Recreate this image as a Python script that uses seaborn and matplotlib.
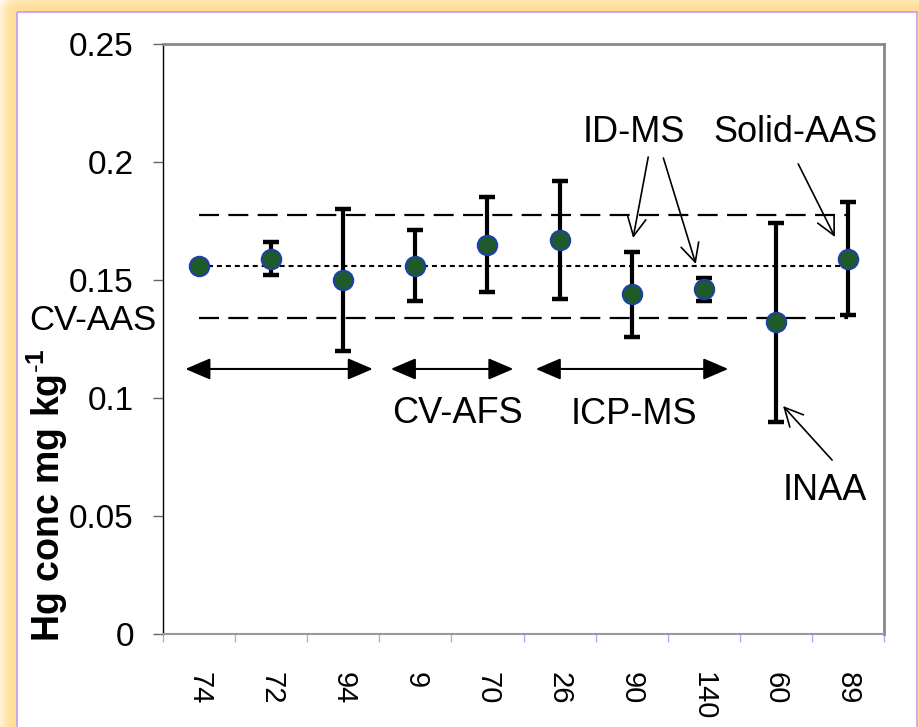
import numpy as np
import pandas as pd
import matplotlib
matplotlib.use('Agg')
import matplotlib.pyplot as plt
import seaborn as sns
from matplotlib.patches import Rectangle

# ---- data ----
labs = ['74', '72', '94', '9', '70', '26', '90', '140', '60', '89']
vals = [0.156, 0.159, 0.150, 0.156, 0.165, 0.167, 0.144, 0.146, 0.132, 0.159]
errs = [0.0, 0.007, 0.030, 0.015, 0.020, 0.025, 0.018, 0.005, 0.042, 0.024]
ref_mean = 0.156
ref_upper = 0.1775
ref_lower = 0.134
yticks = [0, 0.05, 0.1, 0.15, 0.2, 0.25]
ytick_labels = ['0', '0.05', '0.1', '0.15', '0.2', '0.25']

sns.set_style('white')
plt.rcParams['font.family'] = ['Liberation Sans', 'DejaVu Sans']
plt.rcParams['mathtext.fontset'] = 'custom'
plt.rcParams['mathtext.rm'] = 'Liberation Sans'
plt.rcParams['mathtext.bf'] = 'Liberation Sans:bold'
plt.rcParams['text.color'] = 'black'
plt.rcParams['axes.labelcolor'] = 'black'
plt.rcParams['xtick.labelcolor'] = 'black'
plt.rcParams['ytick.labelcolor'] = 'black'

W, H = 920, 727
fig = plt.figure(figsize=(W / 100, H / 100), dpi=100)
fig.patch.set_facecolor('white')

# ---- decorative frame: yellow glow + purple border ----
bg = fig.add_axes([0, 0, 1, 1], zorder=-10)
yy, xx = np.mgrid[0:H, 0:W]
px0, px1, py0 = 17, 917, 12
dx = np.maximum(np.maximum(px0 - xx, xx - px1), 0)
dy = np.maximum(py0 - yy, 0)
d = np.hypot(dx, dy)
a = np.clip(1 - (d / 21.0) ** 2, 0, 1) * (d > 0)
yellow = np.array([1.0, 0.87, 0.58])
img = 1 - a[..., None] * (1 - yellow)
bg.imshow(img, extent=[0, W, H, 0], aspect='auto', interpolation='bilinear')
bg.set_xlim(0, W)
bg.set_ylim(H, 0)
bg.axis('off')
bg.add_patch(Rectangle((px0, py0), px1 - px0, H + 20, fill=False,
                       edgecolor='#C8A0F5', linewidth=1.3))

# ---- main axes ----
ax = fig.add_axes([163 / W, (H - 634) / H, 721 / W, 590 / H])
ax.set_facecolor('white')
x = np.arange(len(labs))

ax.hlines([ref_upper, ref_lower], x[0], x[-1], colors='black', lw=1.6,
          linestyles=[(0, (9, 4.2))], zorder=1)
ax.hlines(ref_mean, x[0], x[-1], colors='black', lw=1.5,
          linestyles=[(0, (2.4, 1.9))], zorder=1)

ax.errorbar(x, vals, yerr=errs, fmt='none', ecolor='black', elinewidth=3,
            capsize=5.5, capthick=3.2, zorder=2)
df = pd.DataFrame({'lab': labs, 'val': vals})
sns.scatterplot(data=df, x='lab', y='val', ax=ax, s=195, color='#1E5A2A',
                edgecolor='#1F40A8', linewidth=1.5, zorder=3, legend=False)

ax.set_xlim(-0.5, 9.5)
ax.set_ylim(0, 0.25)
ax.set_yticks(yticks)
ax.set_yticklabels(ytick_labels)
ax.set_xticks(x)
ax.set_xticklabels(labs, rotation=270, va='top', ha='center')
ax.set_xticks(np.arange(-0.5, 10, 1), minor=True)
ax.tick_params(axis='y', which='major', left=True, direction='out', length=7,
               width=1, color='#666666', labelsize=24, pad=14, labelcolor='black')
ax.tick_params(axis='x', which='major', bottom=True, length=0, labelsize=21,
               pad=27, labelcolor='black')
ax.tick_params(axis='x', which='minor', bottom=True, direction='out', length=6,
               width=1, color='#CC99FF')
ax.set_xlabel('')
ax.set_ylabel(r'Hg conc mg kg$^{\mathbf{\text{-}1}}$', fontsize=27,
              fontweight='bold', va='center', color='black')
ax.yaxis.set_label_coords(-0.161, 0.236)

for s in ['top', 'right']:
    ax.spines[s].set_color('#888888')
    ax.spines[s].set_linewidth(2)
ax.spines['bottom'].set_color('#999999')
ax.spines['bottom'].set_linewidth(1.5)
ax.spines['left'].set_color('black')
ax.spines['left'].set_linewidth(1)

# ---- annotations ----
fs = 26
ax.text(-1.47, 0.133, 'CV-AAS', fontsize=25, ha='center', va='center', clip_on=False)
ax.text(3.58, 0.0936, 'CV-AFS', fontsize=fs, ha='center', va='center')
ax.text(6.03, 0.0928, 'ICP-MS', fontsize=fs, ha='center', va='center')
ax.text(8.68, 0.061, 'INAA', fontsize=fs, ha='center', va='center')
ax.text(6.03, 0.2127, 'ID-MS', fontsize=fs, ha='center', va='center')
ax.text(8.27, 0.2127, 'Solid-AAS', fontsize=fs, ha='center', va='center')

dbl = dict(arrowstyle='<|-|>,head_length=0.7,head_width=0.3', color='black',
           lw=1.5, mutation_scale=22, shrinkA=0, shrinkB=0)
for x0, x1 in [(-0.19, 2.41), (2.66, 4.36), (4.67, 7.34)]:
    ax.annotate('', xy=(x1, 0.1123), xytext=(x0, 0.1123), arrowprops=dbl)

one = dict(arrowstyle='->,head_length=0.6,head_width=0.3', color='black',
           lw=1.2, mutation_scale=22, shrinkA=0, shrinkB=0)
for (tx, ty), (hx, hy) in [((8.78, 0.0737), (8.10, 0.0966)),
                           ((6.23, 0.2021), (6.02, 0.1678)),
                           ((6.44, 0.2017), (6.89, 0.1568)),
                           ((8.31, 0.1992), (8.82, 0.1682))]:
    ax.annotate('', xy=(hx, hy), xytext=(tx, ty), arrowprops=one)

fig.savefig('out.png', dpi=100)
